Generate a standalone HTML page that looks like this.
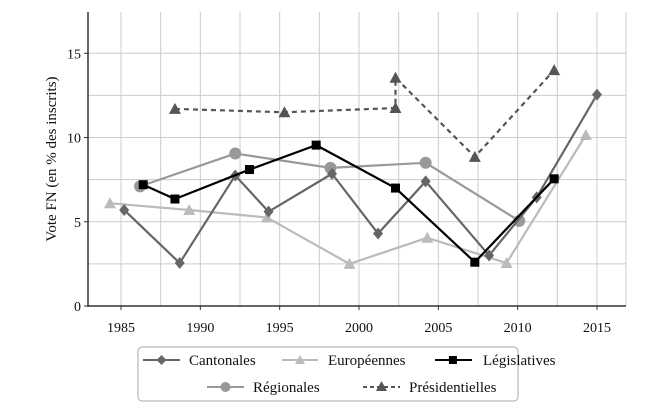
<!DOCTYPE html>
<html><head><meta charset="utf-8"><style>
body{margin:0;background:#fff}
svg text{font-family:"Liberation Serif","DejaVu Serif",serif;fill:#111}
</style></head><body>
<svg width="650" height="411" viewBox="0 0 650 411" xmlns="http://www.w3.org/2000/svg">
<g id="grid"></g>
<g id="series"></g>
<g id="axes"></g>
<text transform="translate(56,159) rotate(-90)" text-anchor="middle" font-size="15">Vote FN (en % des inscrits)</text>
<g>
<rect x="138" y="347" width="380" height="54" rx="4" fill="#fff" stroke="#aaa"/>
<g><line x1="143" y1="360" x2="180" y2="360" stroke="#666" stroke-width="2"/><path d="M161.5 355 L166.5 360 L161.5 365 L156.5 360Z" fill="#666"/><text x="189" y="365" font-size="15">Cantonales</text></g>
<g><line x1="282" y1="360" x2="318" y2="360" stroke="#bbb" stroke-width="2"/><path d="M300 355 L305 364 L295 364Z" fill="#bbb"/><text x="328" y="365" font-size="15">Européennes</text></g>
<g><line x1="435" y1="360" x2="472" y2="360" stroke="#000" stroke-width="2"/><rect x="449" y="356" width="8" height="8" fill="#000"/><text x="483" y="365" font-size="15">Législatives</text></g>
<g><line x1="207" y1="387" x2="244" y2="387" stroke="#999" stroke-width="2"/><circle cx="225.5" cy="387" r="5" fill="#999"/><text x="253" y="392" font-size="15">Régionales</text></g>
<g><line x1="363" y1="387" x2="400" y2="387" stroke="#555" stroke-width="2" stroke-dasharray="4,3"/><path d="M381.5 381 L387 391 L376 391Z" fill="#555"/><text x="409" y="392" font-size="15">Présidentielles</text></g>
</g>
</svg>
<script>
const xTicks=[1985,1990,1995,2000,2005,2010,2015];
const yTicks=[0,5,10,15];
const cantX=[1985.2,1988.7,1992.2,1994.3,1998.3,2001.2,2004.2,2008.2,2011.2,2015];
const cantY=[5.7,2.55,7.75,5.6,7.85,4.3,7.4,3.0,6.45,12.55];
const euroX=[1984.3,1989.3,1994.2,1999.4,2004.3,2009.3,2014.3];
const euroY=[6.1,5.7,5.25,2.5,4.05,2.55,10.15];
const legX=[1986.4,1988.4,1993.1,1997.3,2002.3,2007.3,2012.3];
const legY=[7.2,6.35,8.1,9.55,7.0,2.6,7.55];
const regX=[1986.2,1992.2,1998.2,2004.2,2010.1];
const regY=[7.1,9.05,8.2,8.5,5.05];
const presX=[1988.4,1995.3,2002.3,2002.3,2007.3,2012.3];
const presY=[11.7,11.5,11.75,13.55,8.85,14.0];
const NS="http://www.w3.org/2000/svg";
const L=88,R=626,T=12,B=306;
const sx=y=>121+(y-1985)*(597-121)/30;
const sy=v=>B-v*(B-53.3)/15;
function mk(p,t,a){const e=document.createElementNS(NS,t);for(const k in a)e.setAttribute(k,a[k]);p.appendChild(e);return e;}
const grid=document.getElementById('grid'),axes=document.getElementById('axes'),ser=document.getElementById('series');
for(let y=1985;sx(y)<R;y+=2.5){const l=mk(grid,'line',{x1:sx(y),x2:sx(y),y1:T,y2:B,stroke:'#ccc','stroke-width':1});

}
for(let v=2.5;sy(v)>T;v+=2.5){const l=mk(grid,'line',{x1:L,x2:R,y1:sy(v),y2:sy(v),stroke:'#ccc','stroke-width':1});

}
mk(grid,'line',{x1:R,x2:R,y1:T,y2:B,stroke:'#ccc'});
mk(axes,'line',{x1:L,x2:L,y1:T,y2:B+1,stroke:'#333','stroke-width':1.5});
mk(axes,'line',{x1:L,x2:R,y1:B,y2:B,stroke:'#333','stroke-width':1.5});
xTicks.forEach(y=>{mk(axes,'line',{x1:sx(y),x2:sx(y),y1:B,y2:B+4,stroke:'#333'});
const t=mk(axes,'text',{x:sx(y),y:B+26,'text-anchor':'middle','font-size':14});t.textContent=y;

});
yTicks.forEach(v=>{mk(axes,'line',{x1:L-4,x2:L,y1:sy(v),y2:sy(v),stroke:'#333'});
const t=mk(axes,'text',{x:L-7,y:sy(v)+5,'text-anchor':'end','font-size':14});t.textContent=v;

});
function series(name,xs,ys,color,marker,dash){
const g=mk(ser,'g',{});


const pts=xs.map((x,i)=>sx(x)+','+sy(ys[i])).join(' ');
const a={points:pts,fill:'none',stroke:color,'stroke-width':2.2,'stroke-linejoin':'round'};if(dash)a['stroke-dasharray']=dash;
mk(g,'polyline',a);
xs.forEach((x,i)=>{const X=sx(x),Y=sy(ys[i]);let m;
if(marker==='d')m=mk(g,'path',{d:`M${X} ${Y-6}L${X+5} ${Y}L${X} ${Y+6}L${X-5} ${Y}Z`,fill:color});
else if(marker==='t')m=mk(g,'path',{d:`M${X} ${Y-6}L${X+6} ${Y+5}L${X-6} ${Y+5}Z`,fill:color});
else if(marker==='s')m=mk(g,'rect',{x:X-4.5,y:Y-4.5,width:9,height:9,fill:color});
else m=mk(g,'circle',{cx:X,cy:Y,r:6,fill:color});

});}
series('europeennes',euroX,euroY,'#bbb','t');
series('regionales',regX,regY,'#999','c');
series('cantonales',cantX,cantY,'#666','d');
series('legislatives',legX,legY,'#000','s');
series('presidentielles',presX,presY,'#555','t','5,4');
</script>
</body></html>
